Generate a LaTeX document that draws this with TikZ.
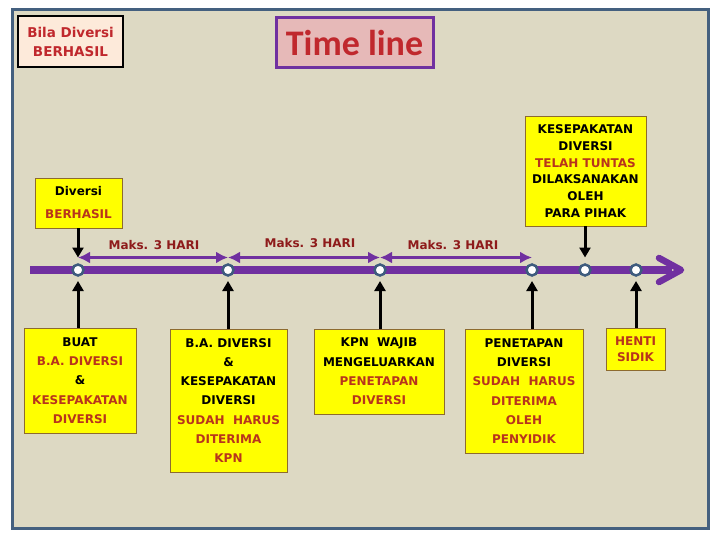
\documentclass[tikz,border=0pt]{standalone}
\usepackage{fontspec}
\setmainfont{DejaVu Sans}
\newfontfamily\titlefont{Carlito}
\usetikzlibrary{arrows.meta,calc}
\definecolor{bg}{HTML}{DDD9C3}
\definecolor{framec}{HTML}{44607F}
\definecolor{tlc}{HTML}{7030A0}
\definecolor{rt}{HTML}{B8341C}
\definecolor{dr}{HTML}{8E1B1B}
\definecolor{ybd}{HTML}{8D6B2F}
\definecolor{pinkbox}{HTML}{FDEADA}
\definecolor{titlefill}{HTML}{E6B9B8}
\definecolor{titletext}{HTML}{C0282D}
\definecolor{circc}{HTML}{3E5C7E}
\definecolor{yel}{HTML}{FFFF00}
\tikzset{
  ybox/.style={draw=ybd, line width=0.9pt, fill=yel, inner sep=0pt, align=center,
    font=\bfseries\fontsize{12}{19.3}\selectfont},
  dot/.style={circle, fill=white, draw=circc, line width=2.5pt, minimum size=11pt, inner sep=0pt},
  maks/.style={text=dr, inner sep=0pt, font=\bfseries\fontsize{12}{14}\selectfont},
  uparrow/.style={black, line width=3pt, -{Triangle[length=10pt,width=11pt]}},
  thinarrow/.style={tlc, line width=3.5pt, {Latex[length=12pt,width=12pt]}-{Latex[length=12pt,width=12pt]}},
  barline/.style={tlc, line width=7.5pt},
  chevron/.style={tlc, line width=6.5pt, line cap=round, line join=round}
}
\begin{document}
\begin{tikzpicture}[x=1pt,y=-1pt]
\useasboundingbox (0,0) rectangle (720,540);
\fill[white] (0,0) rectangle (720,540);
\draw[framec, line width=3pt, fill=bg] (12.5,9.5) rectangle (708.5,528.5);

% titles
\node[draw=black, line width=1.1pt, fill=pinkbox, minimum width=105pt, minimum height=51pt,
  inner sep=0pt, align=center, text=titletext, font=\bfseries\fontsize{13.5}{19}\selectfont]
  (t1) at (70.5,41.5) {Bila Diversi\\BERHASIL};
\node[draw=tlc, line width=3pt, fill=titlefill, minimum width=157pt, minimum height=50pt,
  inner sep=0pt, text=titletext, font=\titlefont\bfseries\fontsize{36}{40}\selectfont]
  (t2) at (354.5,43) {Time line};

% reference levels
\coordinate (thinlvl) at (0,257.5);
\coordinate (lowlvl) at (0,281);
\coordinate (bstart) at (30,270);
\coordinate (bend) at (672,270);
\coordinate (chevtop) at (659,258);
\coordinate (chevtip) at (681,270);
\coordinate (chevbot) at (659,282);

% timeline bar
\draw[barline] (bstart) -- (bend);
\draw[chevron] (chevtop) -- (chevtip) -- (chevbot);

% circles
\node[dot] (c1) at (78,270) {};
\node[dot] (c2) at (228,270) {};
\node[dot] (c3) at (380,270) {};
\node[dot] (c4) at (532,270) {};
\node[dot] (c5) at (585,270) {};
\node[dot] (c6) at (636,270) {};

% thin duration arrows
\draw[thinarrow] (c1 |- thinlvl) -- (c2 |- thinlvl);
\draw[thinarrow] (c2 |- thinlvl) -- (c3 |- thinlvl);
\draw[thinarrow] (c3 |- thinlvl) -- (c4 |- thinlvl);

\node[maks] (m1) at (154,245.5) {Maks. 3 HARI};
\node[maks] (m2) at (310,243.5) {Maks. 3 HARI};
\node[maks] (m3) at (453,245.5) {Maks. 3 HARI};

% upper boxes
\node[ybox, minimum width=87pt, minimum height=50pt, font=\bfseries\fontsize{12}{23}\selectfont]
  (u1) at (78.5,203) {Diversi\\\textcolor{rt}{BERHASIL}};
\node[ybox, minimum width=121pt, minimum height=110pt, font=\bfseries\fontsize{12}{16.8}\selectfont]
  (u2) at (585.5,171) {KESEPAKATAN\\DIVERSI\\\textcolor{rt}{TELAH TUNTAS}\\DILAKSANAKAN\\OLEH\\PARA PIHAK};

% lower boxes
\node[ybox, minimum width=112pt, minimum height=105pt] (b1) at (80,380.5)
  {BUAT\\\textcolor{rt}{B.A. DIVERSI}\\\&\\\textcolor{rt}{KESEPAKATAN}\\\textcolor{rt}{DIVERSI}};
\node[ybox, minimum width=117pt, minimum height=143pt] (b2) at (228.5,400.5)
  {B.A. DIVERSI\\\&\\KESEPAKATAN\\DIVERSI\\\textcolor{rt}{SUDAH~~HARUS}\\\textcolor{rt}{DITERIMA}\\\textcolor{rt}{KPN}};
\node[ybox, minimum width=130pt, minimum height=85pt] (b3) at (379,371.5)
  {KPN~~WAJIB\\MENGELUARKAN\\\textcolor{rt}{PENETAPAN}\\\textcolor{rt}{DIVERSI}};
\node[ybox, minimum width=118pt, minimum height=124pt] (b4) at (524,391)
  {PENETAPAN\\DIVERSI\\\textcolor{rt}{SUDAH~~HARUS}\\\textcolor{rt}{DITERIMA}\\\textcolor{rt}{OLEH}\\\textcolor{rt}{PENYIDIK}};
\node[ybox, minimum width=59pt, minimum height=42pt, font=\bfseries\fontsize{12}{16.5}\selectfont]
  (b5) at (635.5,349) {\textcolor{rt}{HENTI}\\\textcolor{rt}{SIDIK}};

% down arrows from upper boxes
\draw[uparrow] (c1 |- u1.south) -- (c1 |- thinlvl);
\draw[uparrow] (c5 |- u2.south) -- (c5 |- thinlvl);

% up arrows from lower boxes
\draw[uparrow] (c1 |- b1.north) -- (c1 |- lowlvl);
\draw[uparrow] (c2 |- b2.north) -- (c2 |- lowlvl);
\draw[uparrow] (c3 |- b3.north) -- (c3 |- lowlvl);
\draw[uparrow] (c4 |- b4.north) -- (c4 |- lowlvl);
\draw[uparrow] (c6 |- b5.north) -- (c6 |- lowlvl);
\end{tikzpicture}
\end{document}
